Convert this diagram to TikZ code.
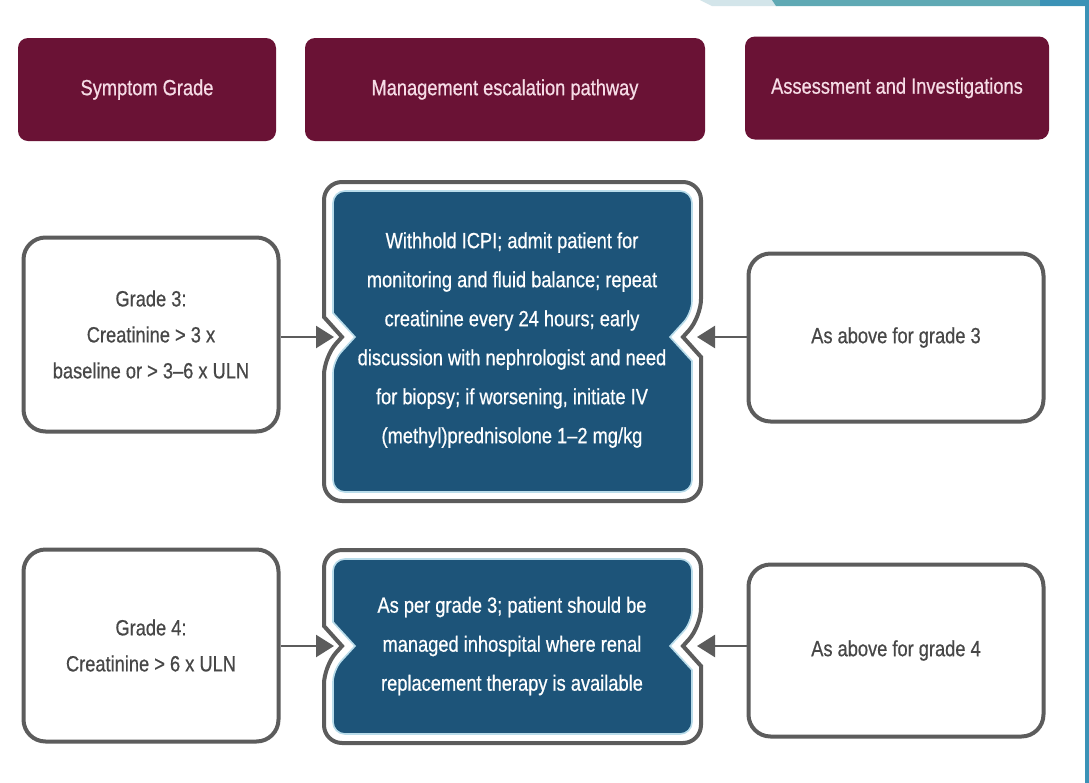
\documentclass[tikz,border=0pt]{standalone}
\usepackage{fontspec}
\setmainfont{Liberation Sans}[FakeStretch=0.83,FakeBold=0.6]
\usetikzlibrary{arrows.meta}
\definecolor{maroon}{HTML}{6A1235}
\definecolor{hdtext}{HTML}{F6DCE6}
\definecolor{navy}{HTML}{1D5479}
\definecolor{edge}{HTML}{5C5C5C}
\definecolor{lite}{HTML}{B9DCEA}
\definecolor{teal1}{HTML}{5FA9B4}
\definecolor{teal2}{HTML}{3B92B6}
\definecolor{pale}{HTML}{D3E5EA}
\definecolor{txt}{HTML}{474747}
\tikzset{
 header/.style={fill=maroon, rounded corners=5pt, text=hdtext, minimum height=51.5pt, font=\fontsize{11}{13}\selectfont, inner sep=0pt},
 sidebox/.style={draw=edge, line width=2pt, rounded corners=11pt, fill=white, text=txt, align=center, font=\fontsize{11}{18}\selectfont, inner sep=0pt},
 outerframe/.style={draw=edge, line width=2pt, fill=white},
 innerframe/.style={draw=lite, line width=0.8pt, fill=navy},
 mtext/.style={text=white, align=center, font=\fontsize{11}{19.5}\selectfont, inner sep=0pt},
 arr/.style={draw=edge, line width=1.2pt, -{Triangle[length=9pt,width=11pt]}},
}
% #1 style, #2 L, #3 R, #4 T, #5 B, #6 N, #7 notch half height, #8 notch depth, #9 corner radius
\newcommand\notchframe[9]{%
 \draw[#1, rounded corners=#9] ({(#2+#3)/2},#4) -- (#3,#4) -- (#3,#6-#7) [sharp corners] -- (#3-#8,#6) -- (#3,#6+#7) [rounded corners=#9] -- (#3,#5) -- (#2,#5) -- (#2,#6+#7) [sharp corners] -- (#2+#8,#6) -- (#2,#6-#7) [rounded corners=#9] -- (#2,#4) -- cycle;}
\begin{document}
\begin{tikzpicture}[x=0.5pt,y=-0.5pt]
\useasboundingbox (0,0) rectangle (1089,783);
\fill[white] (0,0) rectangle (1089,783);
% decoration top right
\fill[pale] (700,0) -- (772,0) -- (776,6) -- (712,6) -- cycle;
\fill[teal1] (772,0) -- (1089,0) -- (1089,6) -- (776,6) -- cycle;
\fill[teal2] (1040,0) rectangle (1089,6);
\fill[teal2] (1085,0) rectangle (1089,783);
% headers
\node[header, minimum width=129pt] (h1) at (147,89.5) {Symptom Grade};
\node[header, minimum width=200pt] (h2) at (505,89.5) {Management escalation pathway};
\node[header, minimum width=152pt] (h3) at (897,88) {Assessment and Investigations};
% grade 3 row
\node[sidebox, minimum width=127.5pt, minimum height=97pt] (g3) at (151,334.5) {Grade 3:\\Creatinine > 3 x\\baseline or > 3–6 x ULN};
\node[sidebox, minimum width=147.5pt, minimum height=84pt] (a3) at (896,337.5) {As above for grade 3};
\notchframe{outerframe}{324}{701}{182}{501}{337}{20}{18}{9pt}
\notchframe{innerframe}{333}{692}{191}{492}{337}{24}{22}{6pt}
\node[mtext] (m3) at (512,340) {Withhold ICPI; admit patient for\\monitoring and fluid balance; repeat\\creatinine every 24 hours; early\\discussion with nephrologist and need\\for biopsy; if worsening, initiate IV\\(methyl)prednisolone 1–2 mg/kg};
\coordinate (t3L) at (334,337);
\coordinate (t3R) at (697,337);
\draw[arr] (g3.east |- t3L) -- (t3L);
\draw[arr] (a3.west |- t3R) -- (t3R);
% grade 4 row
\node[sidebox, minimum width=127.5pt, minimum height=96pt] (g4) at (151,645.5) {Grade 4:\\Creatinine > 6 x ULN};
\node[sidebox, minimum width=147.5pt, minimum height=86pt] (a4) at (896,650.5) {As above for grade 4};
\notchframe{outerframe}{324}{701}{550}{743}{646}{20}{18}{9pt}
\notchframe{innerframe}{333}{692}{559}{734}{646}{24}{22}{6pt}
\node[mtext] (m4) at (512,646) {As per grade 3; patient should be\\managed inhospital where renal\\replacement therapy is available};
\coordinate (t4L) at (334,646);
\coordinate (t4R) at (697,646);
\draw[arr] (g4.east |- t4L) -- (t4L);
\draw[arr] (a4.west |- t4R) -- (t4R);
\end{tikzpicture}
\end{document}
